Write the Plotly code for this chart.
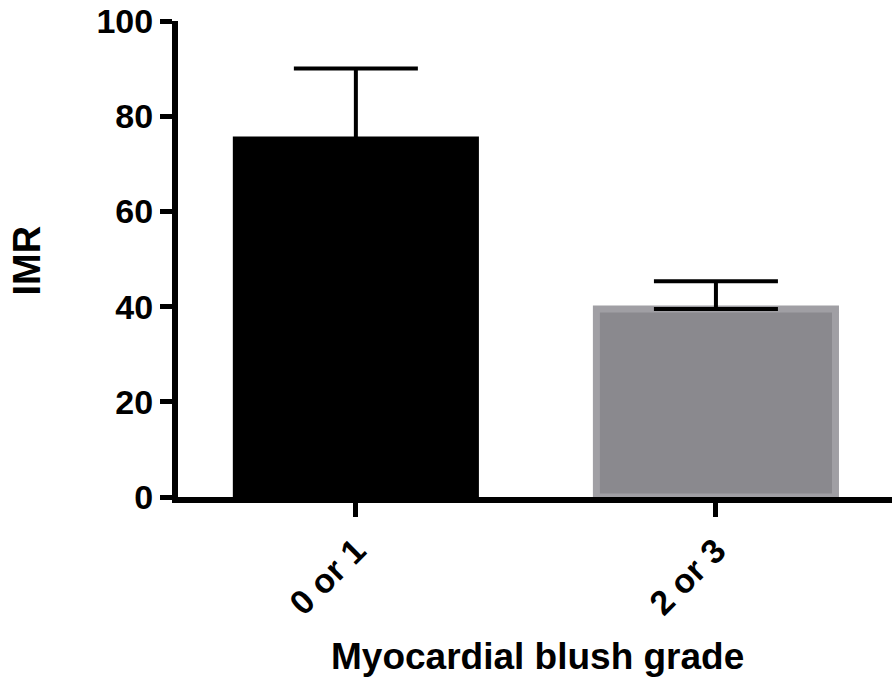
import plotly.graph_objects as go

categories = ["0 or 1", "2 or 3"]
means = [75.0, 39.5]
sem_plus = [15.0, 5.8]
fill_colors = ["#000000", "#8a898e"]
line_colors = ["#000000", "#a09fa4"]
y_ticks = [0, 20, 40, 60, 80, 100]

FONT = "Liberation Sans, Arial, sans-serif"

fig = go.Figure()
fig.add_trace(go.Bar(
    x=categories, y=means,
    width=0.664,
    marker=dict(color=fill_colors, line=dict(color=line_colors, width=7)),
    error_y=dict(type="data", array=sem_plus, arrayminus=[0, 0], symmetric=False,
                 color="black", thickness=4, width=62),
))

fig.update_layout(
    width=892, height=679,
    margin=dict(l=178, r=0, t=21, b=182),
    plot_bgcolor="white", paper_bgcolor="white",
    showlegend=False,
    xaxis=dict(
        range=[-0.494, 1.489],
        showline=True, linecolor="black", linewidth=6,
        ticks="outside", ticklen=14, tickwidth=5, tickcolor="black",
        tickangle=-45,
        tickfont=dict(family=FONT, size=34, color="black", weight=700),
        showgrid=False, zeroline=False,
    ),
    yaxis=dict(
        range=[0, 100],
        tickvals=y_ticks,
        showline=True, linecolor="black", linewidth=6,
        ticks="outside", ticklen=12, tickwidth=5, tickcolor="black",
        tickfont=dict(family=FONT, size=34, color="black", weight=700),
        showgrid=False, zeroline=False,
    ),
    annotations=[
        dict(text="Myocardial blush grade", xref="paper", yref="paper",
             x=0.503, y=-0.336, xanchor="center", yanchor="middle", showarrow=False,
             font=dict(family=FONT, size=37, color="black", weight=700)),
        dict(text="IMR", xref="paper", yref="paper", textangle=-90,
             x=-0.212, y=0.496, xanchor="center", yanchor="middle", showarrow=False,
             font=dict(family=FONT, size=38, color="black", weight=700)),
    ],
)

fig.write_html("out.html", config={"displayModeBar": False},
               post_script="document.body.style.margin='0';document.body.style.overflow='hidden';")
